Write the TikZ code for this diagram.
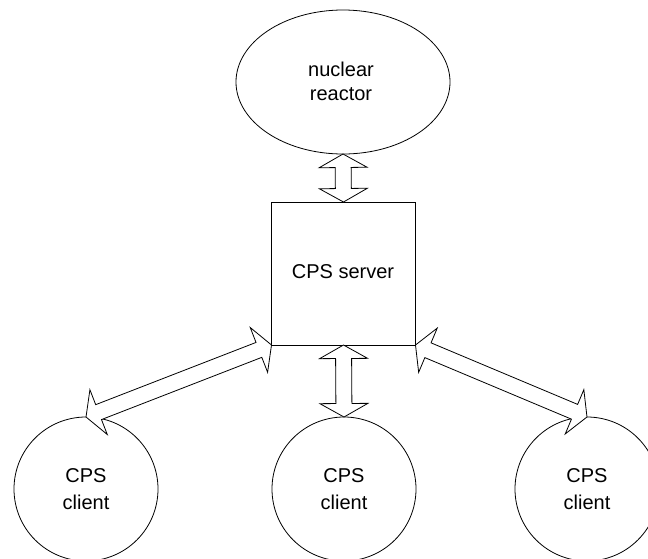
\documentclass[tikz,border=0pt]{standalone}
\usepackage{fontspec}
\setmainfont{Liberation Sans}
\usetikzlibrary{shapes.geometric,calc}
\tikzset{
  every node/.style={inner sep=0pt, outer sep=0pt},
  shapeline/.style={draw=black, line width=0.8pt},
  txt/.style={align=center, font=\fontsize{20}{27.5}\selectfont},
  blockarrow/.style={draw=black, fill=white, line width=0.8pt, line join=miter},
}
\newcommand\bidarrow[2]{%
  \path let \p1=(#1), \p2=(#2), \n1={atan2(\y2-\y1,\x2-\x1)}, \n2={veclen(\x2-\x1,\y2-\y1)} in
    \pgfextra{\xdef\BAang{\n1}\xdef\BAlen{\n2}\xdef\BAx{\x1}\xdef\BAy{\y1}};
  \draw[blockarrow, shift={(\BAx,\BAy)}, rotate=\BAang]
    (0pt,0pt) -- (13.5pt,24pt) -- (13.5pt,8pt) -- ({\BAlen-13.5pt},8pt)
    -- ({\BAlen-13.5pt},24pt) -- ({\BAlen},0pt) -- ({\BAlen-13.5pt},-24pt)
    -- ({\BAlen-13.5pt},-8pt) -- (13.5pt,-8pt) -- (13.5pt,-24pt) -- cycle;
}
\begin{document}
\begin{tikzpicture}[x=1pt,y=-1pt]
  \clip (0,0) rectangle (648,558);
  \node[shapeline, ellipse, minimum width=214pt, minimum height=144pt] (reactor) at (343,82) {};
  \node[txt, font=\fontsize{20}{24}\selectfont] (reactortxt) at (341,81) {nuclear\\reactor};
  \node[shapeline, rectangle, minimum width=144pt, minimum height=143pt] (server) at (343.5,273.5) {};
  \node[txt] (servertxt) at (343,272) {CPS server};
  \node[shapeline, circle, minimum size=144pt] (lc) at (86,489) {};
  \node[shapeline, circle, minimum size=144pt] (mc) at (344,489) {};
  \node[shapeline, circle, minimum size=144pt] (rc) at (587,489) {};
  \node[txt] (lct) at (86,489) {CPS\\client};
  \node[txt] (mct) at (344,489) {CPS\\client};
  \node[txt] (rct) at (587,489) {CPS\\client};
  \bidarrow{reactor.south}{server.north}
  \bidarrow{server.south}{mc.north}
  \bidarrow{server.south west}{lc.north}
  \bidarrow{server.south east}{rc.north}
\end{tikzpicture}
\end{document}
